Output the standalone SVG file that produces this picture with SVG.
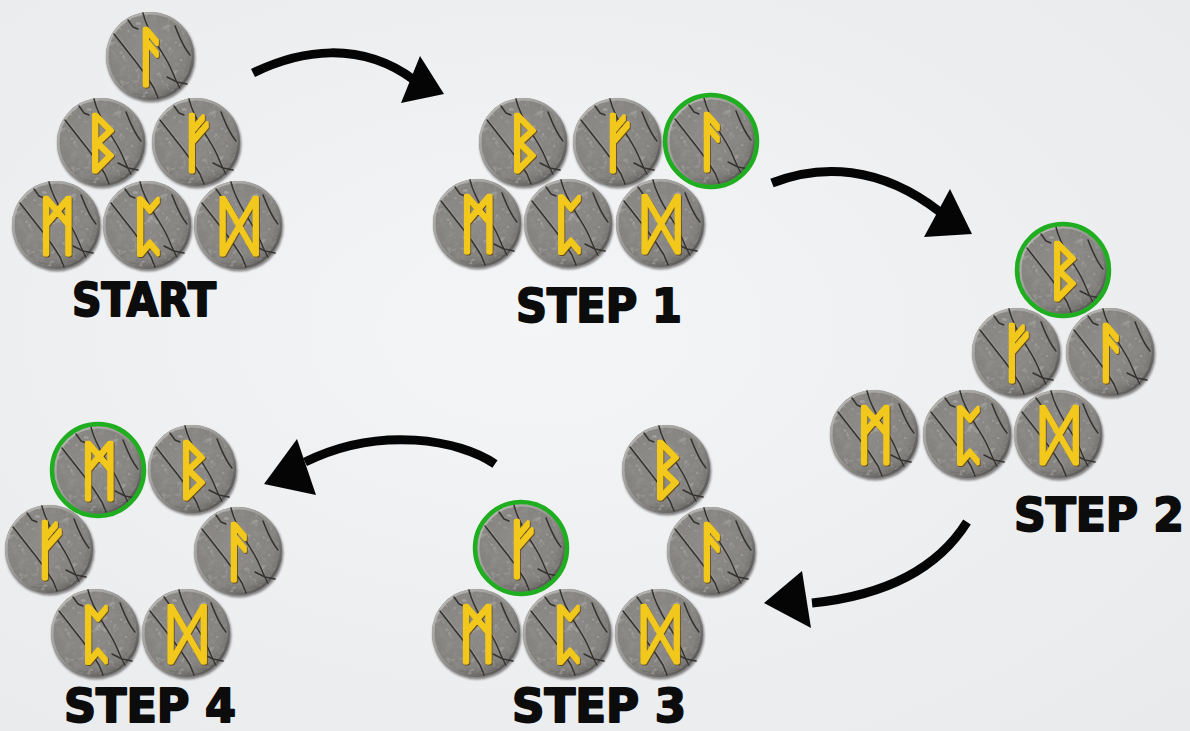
<svg xmlns="http://www.w3.org/2000/svg" xmlns:xlink="http://www.w3.org/1999/xlink" width="1190" height="731" viewBox="0 0 1190 731">
  <style>
    .rune { font-family: "DejaVu Sans", sans-serif; font-size: 64px; fill: #f6d11d; stroke: #f2c81a; stroke-width: 3.6; stroke-linejoin: round; text-anchor: middle; filter: url(#runeShadow); }
    .label { font-family: "DejaVu Sans", "Liberation Sans", sans-serif; font-weight: bold; font-size: 46px; fill: #0c0c0c; stroke: #0c0c0c; stroke-width: 2; stroke-linejoin: round; text-anchor: middle; }
    .pick { fill: none; stroke: #1fae1f; stroke-width: 4.5; }
    .shaft { fill: none; stroke: #050505; stroke-width: 9; }
    .head { fill: #050505; }
    .crack { fill: none; stroke: #353331; stroke-width: 1.5; stroke-linecap: round; stroke-linejoin: round; }
    .crackHi { fill: none; stroke: #b8b6b2; stroke-width: 0.8; stroke-linecap: round; opacity: 0.5; }
  </style>
  <defs>
    <radialGradient id="bg" cx="0.45" cy="0.45" r="0.75">
      <stop offset="0" stop-color="#f4f5f6"/>
      <stop offset="1" stop-color="#e9eaec"/>
    </radialGradient>
    <radialGradient id="stoneFill" cx="0.45" cy="0.4" r="0.6">
      <stop offset="0" stop-color="#8e8c8a"/>
      <stop offset="0.8" stop-color="#84827f"/>
      <stop offset="1" stop-color="#6a6866"/>
    </radialGradient>
    <linearGradient id="rim" x1="0" y1="0" x2="1" y2="1">
      <stop offset="0" stop-color="#c2c0bc"/>
      <stop offset="0.5" stop-color="#959390"/>
      <stop offset="1" stop-color="#464442"/>
    </linearGradient>
    <filter id="grain" x="-5%" y="-5%" width="110%" height="110%">
      <feTurbulence type="fractalNoise" baseFrequency="0.13" numOctaves="3" seed="7" result="noise"/>
      <feColorMatrix in="noise" type="matrix" values="0 0 0 0 0.3  0 0 0 0 0.29  0 0 0 0 0.28  1.6 0 0 0 -0.72" result="dark"/>
      <feColorMatrix in="noise" type="matrix" values="0 0 0 0 0.7  0 0 0 0 0.69  0 0 0 0 0.67  -1.3 0 0 0 0.52" result="light"/>
      <feComposite in="dark" in2="SourceGraphic" operator="in" result="darkIn"/>
      <feComposite in="light" in2="SourceGraphic" operator="in" result="lightIn"/>
      <feMerge>
        <feMergeNode in="SourceGraphic"/>
        <feMergeNode in="darkIn"/>
        <feMergeNode in="lightIn"/>
      </feMerge>
    </filter>
    <filter id="soft" x="-20%" y="-20%" width="140%" height="140%">
      <feGaussianBlur stdDeviation="1.2"/>
    </filter>
    <filter id="runeShadow" x="-30%" y="-20%" width="160%" height="140%">
      <feDropShadow dx="0.8" dy="1" stdDeviation="0.7" flood-color="#5c3f08" flood-opacity="0.9"/>
    </filter>

    <!-- carved stone disc, centred on 0,0 -->
    <g id="stone">
      <circle cx="1" cy="2" r="44.5" fill="#2a2826" opacity="0.55" filter="url(#soft)"/>
      <circle r="44" fill="url(#stoneFill)" filter="url(#grain)"/>
      <circle r="42.8" fill="none" stroke="url(#rim)" stroke-width="2.4"/>
      <path class="crackHi" d="M-6,-43 C-3,-30 3,-20 9,-10 S19,5 23,15 S29,28 31,32"/>
      <path class="crack" d="M-7,-43 C-4,-30 2,-20 8,-10 S18,5 22,15 S28,28 30,32"/>
      <path class="crackHi" d="M-35,-23 C-27,-13 -21,-5 -13,5 S-1,21 5,31"/>
      <path class="crack" d="M-36,-22 C-28,-12 -22,-4 -14,6 S-2,22 4,32 L8,42"/>
      <path class="crack" d="M-22,-36 L-17,-29 L-12,-27"/>
      <path class="crack" d="M25,-30 C29,-20 33,-9 40,-1"/>
      <path class="crack" d="M17,21 L27,26 L37,28"/>
    </g>
  </defs>

  <rect width="1190" height="731" fill="url(#bg)"/>

  <!-- START -->
  <g id="start">
    <g id="start-ansuz" transform="translate(150,56)"><use href="#stone"/><text class="rune" x="1" y="23">ᚨ</text></g>
    <g id="start-berkano" transform="translate(101,142)"><use href="#stone"/><text class="rune" x="1" y="23">ᛒ</text></g>
    <g id="start-fehu" transform="translate(196,142)"><use href="#stone"/><text class="rune" x="1" y="23">ᚠ</text></g>
    <g id="start-mannaz" transform="translate(56,225)"><use href="#stone"/><text class="rune" x="1" y="23">ᛗ</text></g>
    <g id="start-perthro" transform="translate(147,225)"><use href="#stone"/><text class="rune" x="1" y="23">ᛈ</text></g>
    <g id="start-dagaz" transform="translate(238,225)"><use href="#stone"/><text class="rune" x="1" y="23">ᛞ</text></g>
    <text id="label-start" class="label" x="144" y="316" textLength="144" lengthAdjust="spacingAndGlyphs">START</text>
  </g>

  <!-- STEP 1 -->
  <g id="step1">
    <g id="s1-berkano" transform="translate(523,142)"><use href="#stone"/><text class="rune" x="1" y="23">ᛒ</text></g>
    <g id="s1-fehu" transform="translate(617,142)"><use href="#stone"/><text class="rune" x="1" y="23">ᚠ</text></g>
    <g id="s1-ansuz" transform="translate(711,141)"><use href="#stone"/><text class="rune" x="1" y="23">ᚨ</text><circle class="pick" r="46"/></g>
    <g id="s1-mannaz" transform="translate(477,223)"><use href="#stone"/><text class="rune" x="1" y="23">ᛗ</text></g>
    <g id="s1-perthro" transform="translate(568,223)"><use href="#stone"/><text class="rune" x="1" y="23">ᛈ</text></g>
    <g id="s1-dagaz" transform="translate(660,223)"><use href="#stone"/><text class="rune" x="1" y="23">ᛞ</text></g>
    <text id="label-step1" class="label" x="599" y="322" textLength="166" lengthAdjust="spacingAndGlyphs">STEP 1</text>
  </g>

  <!-- STEP 2 -->
  <g id="step2">
    <g id="s2-berkano" transform="translate(1063,270)"><use href="#stone"/><text class="rune" x="1" y="23">ᛒ</text><circle class="pick" r="46"/></g>
    <g id="s2-fehu" transform="translate(1016,352)"><use href="#stone"/><text class="rune" x="1" y="23">ᚠ</text></g>
    <g id="s2-ansuz" transform="translate(1110,352)"><use href="#stone"/><text class="rune" x="1" y="23">ᚨ</text></g>
    <g id="s2-mannaz" transform="translate(874,434)"><use href="#stone"/><text class="rune" x="1" y="23">ᛗ</text></g>
    <g id="s2-perthro" transform="translate(967,434)"><use href="#stone"/><text class="rune" x="1" y="23">ᛈ</text></g>
    <g id="s2-dagaz" transform="translate(1058,434)"><use href="#stone"/><text class="rune" x="1" y="23">ᛞ</text></g>
    <text id="label-step2" class="label" x="1099" y="531" textLength="170" lengthAdjust="spacingAndGlyphs">STEP 2</text>
  </g>

  <!-- STEP 3 -->
  <g id="step3">
    <g id="s3-berkano" transform="translate(666,469)"><use href="#stone"/><text class="rune" x="1" y="23">ᛒ</text></g>
    <g id="s3-ansuz" transform="translate(711,551)"><use href="#stone"/><text class="rune" x="1" y="23">ᚨ</text></g>
    <g id="s3-fehu" transform="translate(521,548)"><use href="#stone"/><text class="rune" x="1" y="23">ᚠ</text><circle class="pick" r="46"/></g>
    <g id="s3-mannaz" transform="translate(476,633)"><use href="#stone"/><text class="rune" x="1" y="23">ᛗ</text></g>
    <g id="s3-perthro" transform="translate(567,633)"><use href="#stone"/><text class="rune" x="1" y="23">ᛈ</text></g>
    <g id="s3-dagaz" transform="translate(659,633)"><use href="#stone"/><text class="rune" x="1" y="23">ᛞ</text></g>
    <text id="label-step3" class="label" x="599" y="722" textLength="174" lengthAdjust="spacingAndGlyphs">STEP 3</text>
  </g>

  <!-- STEP 4 -->
  <g id="step4">
    <g id="s4-mannaz" transform="translate(98,470)"><use href="#stone"/><text class="rune" x="1" y="23">ᛗ</text><circle class="pick" r="46"/></g>
    <g id="s4-berkano" transform="translate(192,469)"><use href="#stone"/><text class="rune" x="1" y="23">ᛒ</text></g>
    <g id="s4-fehu" transform="translate(49,549)"><use href="#stone"/><text class="rune" x="1" y="23">ᚠ</text></g>
    <g id="s4-ansuz" transform="translate(238,551)"><use href="#stone"/><text class="rune" x="1" y="23">ᚨ</text></g>
    <g id="s4-perthro" transform="translate(95,633)"><use href="#stone"/><text class="rune" x="1" y="23">ᛈ</text></g>
    <g id="s4-dagaz" transform="translate(186,633)"><use href="#stone"/><text class="rune" x="1" y="23">ᛞ</text></g>
    <text id="label-step4" class="label" x="150" y="722" textLength="172" lengthAdjust="spacingAndGlyphs">STEP 4</text>
  </g>

  <!-- curved arrows between the stages -->
  <g id="connectors">
    <path class="shaft" d="M253,73 C300,50 360,40 414,80"/>
    <polygon class="head" points="420,56 444,94 401,103"/>
    <path class="shaft" d="M772,183 C820,164 880,165 940,212"/>
    <polygon class="head" points="950,189 972,234 924,237"/>
    <path class="shaft" d="M967,522 C940,565 890,595 812,603"/>
    <polygon class="head" points="802,571 764,603 811,628"/>
    <path class="shaft" d="M495,464 C460,440 380,425 305,462"/>
    <polygon class="head" points="297,439 264,484 316,495"/>
  </g>
</svg>
